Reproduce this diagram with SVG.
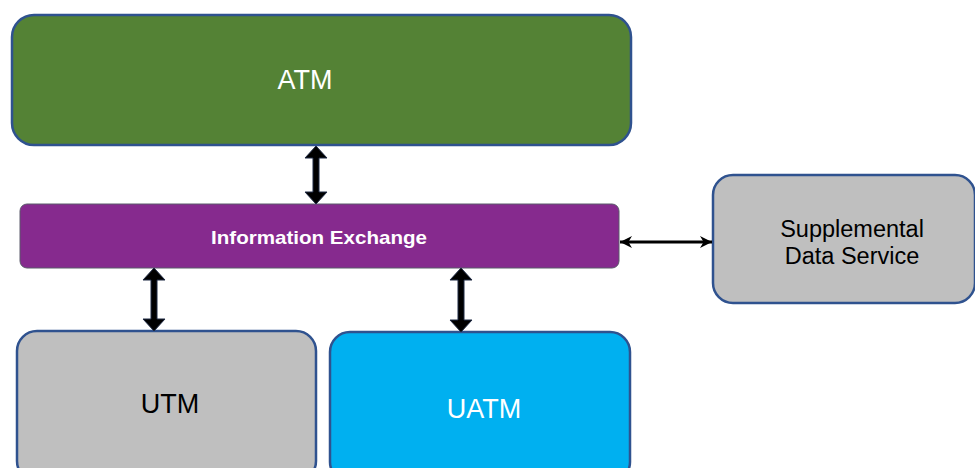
<svg xmlns="http://www.w3.org/2000/svg" width="975" height="468" viewBox="0 0 975 468">
<style>
.box{stroke:#2F528F;stroke-width:2.5}
.lbl{font-family:"Liberation Sans",Arial,sans-serif;text-anchor:middle}
.blk{fill:#000;stroke:#1F2A44;stroke-width:1}
</style>
<defs>
<marker id="ah" viewBox="0 0 10 10" refX="10" refY="5" markerWidth="4" markerHeight="4" orient="auto-start-reverse" markerUnits="strokeWidth">
<path d="M0,0 L10,5 L0,10 L3,5 Z" fill="#000"/>
</marker>
</defs>
<rect width="975" height="468" fill="#fff"/>
<g id="atm">
<rect class="box" x="12" y="15" width="619" height="130" rx="22" fill="#548235"/>
<text class="lbl" x="305" y="89" font-size="27" fill="#fff">ATM</text>
</g>
<g id="info-exchange">
<rect x="20" y="204" width="599" height="64" rx="7" fill="#862A8E" stroke="#5A5A6A" stroke-width="1"/>
<text class="lbl" x="319" y="244" font-size="19" font-weight="bold" fill="#fff" textLength="216" lengthAdjust="spacingAndGlyphs">Information Exchange</text>
</g>
<g id="supplemental">
<rect class="box" x="713" y="175" width="262" height="128" rx="20" fill="#BFBFBF"/>
<text class="lbl" x="852" y="237" font-size="23.5" fill="#000">Supplemental</text>
<text class="lbl" x="852" y="264" font-size="23.5" fill="#000">Data Service</text>
</g>
<g id="utm">
<rect class="box" x="17" y="331" width="299" height="150" rx="20" fill="#BFBFBF"/>
<text class="lbl" x="170" y="413" font-size="27" fill="#000">UTM</text>
</g>
<g id="uatm">
<rect class="box" x="330" y="332" width="300" height="150" rx="20" fill="#00B0F0"/>
<text class="lbl" x="484" y="418" font-size="27" fill="#fff">UATM</text>
</g>
<g id="connectors">
<path class="blk" d="M316,146 L327,158 L319,158 L319,192 L327,192 L316,204 L305,192 L313,192 L313,158 L305,158 Z"/>
<path class="blk" d="M154,268 L165,280 L157,280 L157,319 L165,319 L154,331 L143,319 L151,319 L151,280 L143,280 Z"/>
<path class="blk" d="M461,268 L472,280 L464,280 L464,320 L472,320 L461,332 L450,320 L458,320 L458,280 L450,280 Z"/>
<line x1="620" y1="242" x2="712" y2="242" stroke="#000" stroke-width="3" marker-start="url(#ah)" marker-end="url(#ah)"/>
</g>
</svg>
